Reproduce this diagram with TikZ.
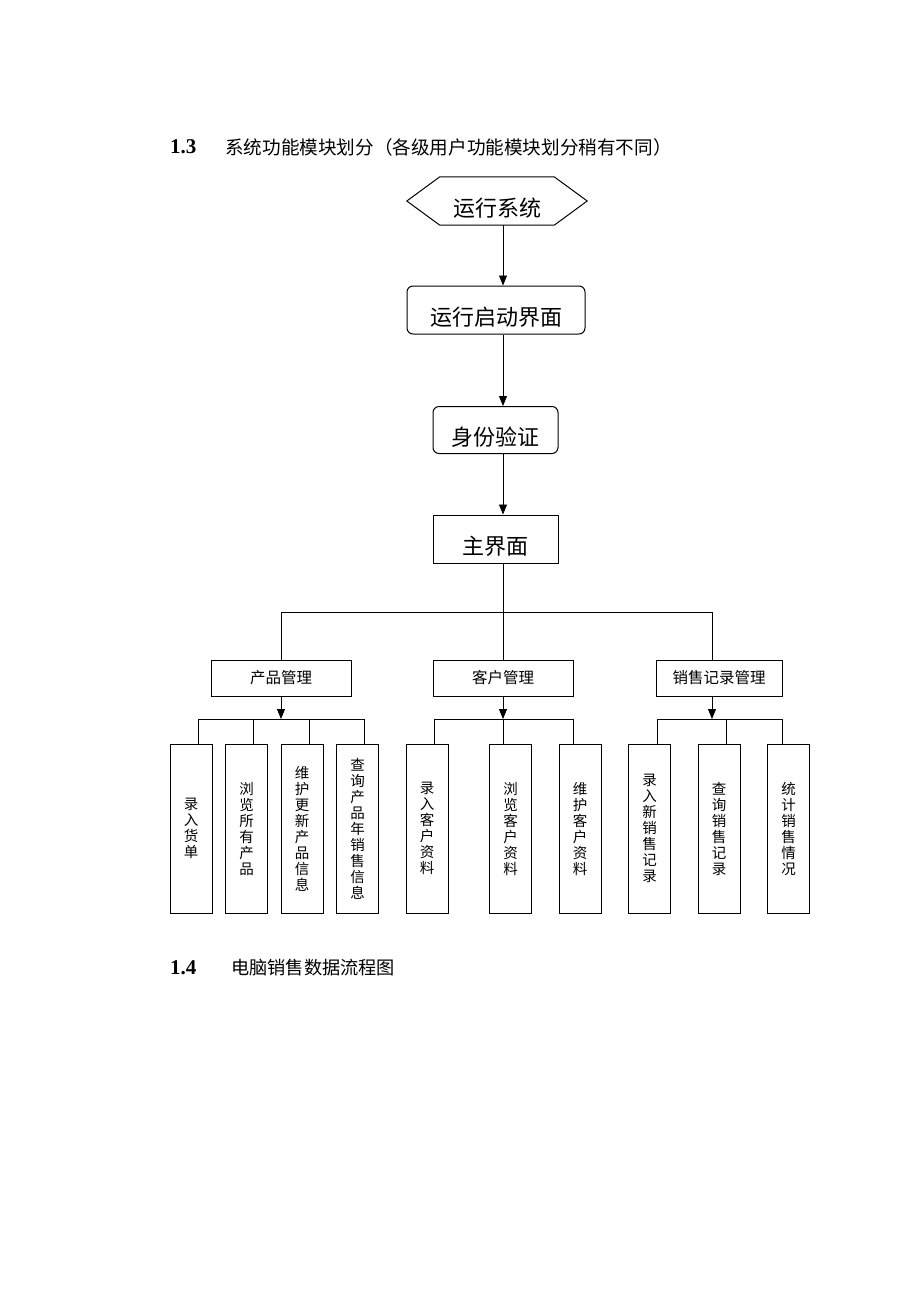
\documentclass[tikz,border=0pt]{standalone}
\usepackage{fontspec}
\setmainfont{Liberation Serif}
\newfontfamily\cjk{Noto Sans CJK SC}
\usetikzlibrary{arrows.meta,calc,positioning}

\begin{document}
\begin{tikzpicture}[x=1pt,y=-1pt,every node/.append style={inner sep=0pt,font=\cjk},
                    bigbox/.style={draw,line width=1pt,minimum height=48pt,text height=30pt,text depth=0pt,
                                   font=\cjk\fontsize{22}{26}\selectfont},
                    roundbox/.style={bigbox,rounded corners=6pt},
                    groupbox/.style={draw,line width=1pt,minimum height=36pt,
                                     font=\cjk\fontsize{15.5}{18}\selectfont},
                    leafbox/.style={draw,line width=1pt,minimum width=42pt,minimum height=169pt,
                                    align=center,font=\cjk\fontsize{14.5}{16}\selectfont},
                    link/.style={line width=0.9pt},
                    flow/.style={link,-{Triangle[length=10pt,width=8pt]}}]
    \useasboundingbox (0,0) rectangle (920,1302);
    % headings
    \node[anchor=west,font=\bfseries\fontsize{21}{24}\selectfont] (h13) at (170,147) {1.3};
    \node[anchor=west,font=\cjk\fontsize{18.6}{24}\selectfont] (t13) at (225,147)
        {系统功能模块划分（各级用户功能模块划分稍有不同）};
    \node[anchor=west,font=\bfseries\fontsize{21}{24}\selectfont] (h14) at (170,968) {1.4};
    \node[anchor=west,font=\cjk\fontsize{18.2}{22}\selectfont] (t14) at (231,968) {电脑销售数据流程图};
    % main chain
    \node[minimum width=180pt,minimum height=48pt,text height=30pt,text depth=0pt,
          font=\cjk\fontsize{22}{26}\selectfont] (run) at (497,201) {运行系统};
    \draw[line width=1pt] (run.west) -- ($(run.north west)+(33,0)$) -- ($(run.north east)+(-33,0)$)
        -- (run.east) -- ($(run.south east)+(-33,0)$) -- ($(run.south west)+(33,0)$) -- cycle;
    \node[roundbox,minimum width=178pt] (start) at (496,310) {运行启动界面};
    \node[roundbox,minimum width=125pt,minimum height=47pt] (login) at (495.5,430) {身份验证};
    \node[bigbox,minimum width=125pt] (mainui) at (495.5,539) {主界面};
    \coordinate (axis) at (503,0);
    \draw[flow] (run.south -| axis) -- (start.north -| axis);
    \draw[flow] (start.south -| axis) -- (login.north -| axis);
    \draw[flow] (login.south -| axis) -- (mainui.north -| axis);
    % modules
    \node[groupbox,minimum width=140pt] (prod) at (281,678) {产品管理};
    \node[groupbox,minimum width=140pt] (cust) at (503,678) {客户管理};
    \node[groupbox,minimum width=126pt] (sale) at (719,678) {销售记录管理};
    \coordinate (bus) at (0,612);
    \coordinate (saleup) at (712,0);
    \draw[link] (mainui.south -| axis) -- (axis |- bus);
    \draw[link] (prod.north) |- (saleup |- bus) -- (saleup |- sale.north);
    \draw[link] (cust.north) -- (cust.north |- bus);
    % functions
    \node[leafbox] (p1) at (191,828.5) {录\\入\\货\\单};
    \node[leafbox] (p2) at (246.5,828.5) {浏\\览\\所\\有\\产\\品};
    \node[leafbox] (p3) at (302,828.5) {维\\护\\更\\新\\产\\品\\信\\息};
    \node[leafbox] (p4) at (357.5,828.5) {查\\询\\产\\品\\年\\销\\售\\信\\息};
    \node[leafbox] (c1) at (427,828.5) {录\\入\\客\\户\\资\\料};
    \node[leafbox] (c2) at (510.5,828.5) {浏\\览\\客\\户\\资\\料};
    \node[leafbox] (c3) at (580,828.5) {维\\护\\客\\户\\资\\料};
    \node[leafbox] (s1) at (649.5,828.5) {录\\入\\新\\销\\售\\记\\录};
    \node[leafbox] (s2) at (719,828.5) {查\\询\\销\\售\\记\\录};
    \node[leafbox] (s3) at (788.5,828.5) {统\\计\\销\\售\\情\\况};
    \coordinate (leafbus) at (0,719);
    \foreach \n/\dx in {p1/7,p2/7,p3/7,p4/7,c1/7,c2/-7,c3/-7,s1/7.5,s2/7,s3/-6.5}
        \coordinate (\n-top) at ($(\n.north)+(\dx,0)$);
    \draw[link] (p1-top) |- (p4-top |- leafbus) -- (p4-top);
    \draw[link] (p2-top) -- (p2-top |- leafbus);
    \draw[link] (p3-top) -- (p3-top |- leafbus);
    \draw[flow] (prod.south) -- (prod.south |- leafbus);
    \draw[link] (c1-top) |- (c3-top |- leafbus) -- (c3-top);
    \draw[link] (c2-top) -- (c2-top |- leafbus);
    \draw[flow] (cust.south) -- (cust.south |- leafbus);
    \draw[link] (s1-top) |- (s3-top |- leafbus) -- (s3-top);
    \draw[link] (s2-top) -- (s2-top |- leafbus);
    \draw[flow] (saleup |- sale.south) -- (saleup |- leafbus);
\end{tikzpicture}
\end{document}
